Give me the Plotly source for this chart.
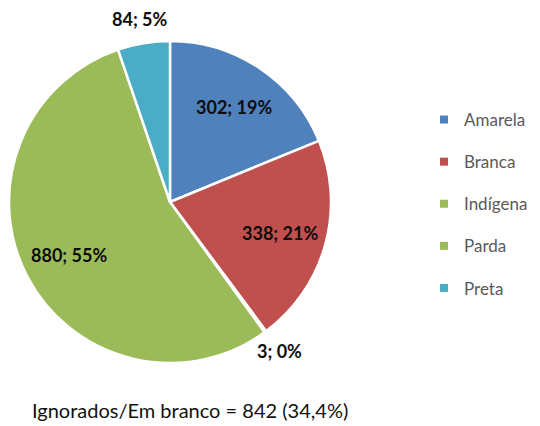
import math
import plotly.graph_objects as go

categories = ["Amarela", "Branca", "Indígena", "Parda", "Preta"]
values = [302, 338, 3, 880, 84]
colors = ["#4F81BD", "#C0504D", "#9BBB59", "#9BBB59", "#4BACC6"]
label_outside = [False, False, True, False, True]
ignored_count = 842
ignored_pct = "34,4%"

# figure geometry (page body adds an 8px offset)
W, H = 532, 418
CX, CY, R = 162, 194, 161
INSIDE_F, OUTSIDE_F = 0.71, 1.15

total = sum(values)
labels_text = [f"{v}; {round(v / total * 100)}%" for v in values]

fig = go.Figure()
fig.add_trace(go.Pie(
    labels=categories,
    values=values,
    textinfo="none",
    sort=False,
    direction="clockwise",
    rotation=0,
    marker=dict(colors=colors, line=dict(color="white", width=2.5)),
    showlegend=False,
    hoverinfo="label+value+percent",
    domain=dict(x=[(CX - R) / W, (CX + R) / W], y=[(H - CY - R) / H, (H - CY + R) / H]),
))

# data labels placed along each slice's bisector
cum = 0
for v, txt, out in zip(values, labels_text, label_outside):
    mid = (cum + v / 2) / total * 2 * math.pi
    cum += v
    r = R * (OUTSIDE_F if out else INSIDE_F)
    px = CX + r * math.sin(mid)
    py = CY - r * math.cos(mid)
    fig.add_annotation(
        text=f"<b>{txt}</b>", x=px / W, y=(H - py) / H,
        xref="paper", yref="paper", xanchor="center", yanchor="middle",
        showarrow=False, font=dict(family="Lato", size=18, color="#0d0d0d"),
    )

for name, col in zip(categories, colors):
    fig.add_trace(go.Scatter(
        x=[None], y=[None], mode="markers", name=name,
        marker=dict(symbol="square", size=8, color=col),
        legendgroup=name, showlegend=True,
    ))

fig.add_annotation(
    text=f"Ignorados/Em branco = {ignored_count} ({ignored_pct})",
    x=22 / W, y=1 - 402 / H, xref="paper", yref="paper",
    xanchor="left", yanchor="middle", showarrow=False,
    font=dict(family="Lato", size=20, color="#111111"),
)

fig.update_layout(
    width=W, height=H,
    margin=dict(l=0, r=0, t=0, b=0, autoexpand=False),
    paper_bgcolor="white", plot_bgcolor="white",
    xaxis=dict(visible=False), yaxis=dict(visible=False),
    legend=dict(
        x=416 / W, y=1 - 94 / H, xanchor="left", yanchor="top",
        font=dict(family="Lato", size=17, color="#595959"),
        tracegroupgap=17, bgcolor="rgba(0,0,0,0)",
    ),
)

fig.write_html("out.html")
